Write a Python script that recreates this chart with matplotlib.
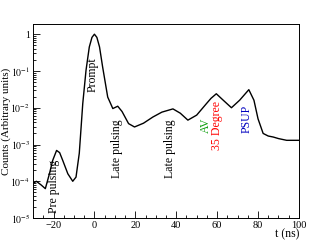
import matplotlib
matplotlib.use("Agg")
import matplotlib.pyplot as plt
from matplotlib.ticker import MultipleLocator, LogLocator, FixedLocator, FixedFormatter

plt.rcParams["font.family"] = ["Liberation Serif", "DejaVu Serif"]
plt.rcParams["mathtext.fontset"] = "stix"

# time (ns) and counts
t = [-30, -28.4, -26, -24, -22, -20.4, -18.5, -17, -15.5, -13, -10.6, -9, -7.4,
     -6.5, -5.7, -4.1, -2.5, -1.2, 0, 1.2, 2.5, 4, 6.5, 9, 11.4, 13.5, 16.7, 19.6,
     24, 28.6, 33, 38.4, 42, 45.7, 50, 54.8, 57, 59.6, 63, 67, 71, 75.5, 78,
     80, 82.5, 85, 87.4, 90, 94, 97, 100]
counts = [8.7e-5, 1.0e-4, 7.9e-5, 6.3e-5, 1.6e-4, 3.7e-4, 6.9e-4, 6.0e-4, 3.7e-4,
          1.6e-4, 1.0e-4, 1.3e-4, 5.8e-4, 3.0e-3, 1.3e-2, 0.105, 0.45, 0.82, 1.0,
          0.82, 0.45, 0.13, 0.0195, 9.5e-3, 1.1e-2, 7.9e-3, 3.7e-3, 3.0e-3,
          3.8e-3, 5.6e-3, 7.6e-3, 9.3e-3, 7.1e-3, 4.6e-3, 6.3e-3, 1.3e-2, 1.8e-2,
          2.4e-2, 1.6e-2, 1.0e-2, 1.6e-2, 3.1e-2, 1.6e-2, 5.0e-3, 2.0e-3, 1.7e-3,
          1.6e-3, 1.45e-3, 1.3e-3, 1.3e-3, 1.3e-3]

# peak annotations: text, x, bottom y, colour
labels = ["Pre pulsing", "Prompt", "Late pulsing", "Late pulsing", "AV", "35 Degree", "PSUP"]
label_x = [-19.6, -0.8, 10.8, 36.8, 54.5, 59.8, 74.5]
label_y = [1.4e-5, 2.6e-2, 1.26e-4, 1.2e-4, 2.1e-3, 6.9e-4, 2.1e-3]
label_colors = ["black", "black", "black", "black", "#10a010", "red", "#0000c0"]

ytick_vals = [1e-5, 1e-4, 1e-3, 1e-2, 1e-1, 1]
ytick_labels = ["$10^{-5}$", "$10^{-4}$", "$10^{-3}$", "$10^{-2}$", "$10^{-1}$", "1"]

fig = plt.figure(figsize=(3.34, 2.42), dpi=100)
ax = fig.add_axes([0.099, 0.099, 0.796, 0.802])
ax.plot(t, counts, color="black", lw=1.0)
ax.set_yscale("log")
ax.set_xlim(-30, 100)
ax.set_ylim(1e-5, 1.9)

ax.xaxis.set_major_locator(MultipleLocator(20))
ax.xaxis.set_minor_locator(MultipleLocator(5))
ax.yaxis.set_major_locator(FixedLocator(ytick_vals))
ax.yaxis.set_major_formatter(FixedFormatter(ytick_labels))
ax.yaxis.set_minor_locator(LogLocator(base=10, subs=range(2, 10)))
ax.tick_params(which="both", direction="in", top=False, right=False, labelsize=7.5, pad=2)
ax.tick_params(axis="y", labelsize=7)
ax.tick_params(which="major", length=5, width=0.6)
ax.tick_params(which="minor", length=2.5, width=0.6)
for s in ax.spines.values():
    s.set_linewidth(0.7)

for txt, x, y, c in zip(labels, label_x, label_y, label_colors):
    ax.text(x, y, txt, rotation=90, ha="center", va="bottom", color=c, fontsize=8.5)

ax.set_ylabel("Counts (Arbitrary units)", fontsize=8)
ax.yaxis.set_label_coords(-0.082, 0.5)
ax.set_xlabel("t (ns)", fontsize=8.5, loc="right", labelpad=-1)

fig.savefig("out.png", dpi=100)
